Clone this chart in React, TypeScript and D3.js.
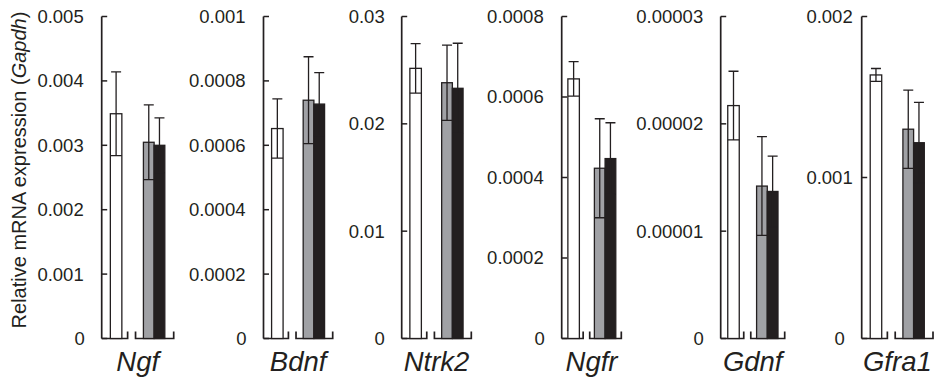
import React, { useRef, useEffect } from "react";
import * as d3 from "d3";

// gene names and y-axis tick labels per panel
const genes = ["Ngf", "Bdnf", "Ntrk2", "Ngfr", "Gdnf", "Gfra1"];
const tickLabels = [
  ["0", "0.001", "0.002", "0.003", "0.004", "0.005"],
  ["0", "0.0002", "0.0004", "0.0006", "0.0008", "0.001"],
  ["0", "0.01", "0.02", "0.03"],
  ["0", "0.0002", "0.0004", "0.0006", "0.0008"],
  ["0", "0.00001", "0.00002", "0.00003"],
  ["0", "0.001", "0.002"],
];

// bar values (mean) and error (SD) for the three groups
const whiteMean = [0.00349, 0.000652, 0.02517, 0.000645, 0.0000217, 0.001637];
const whiteSd = [0.00065, 0.000092, 0.0023, 0.000043, 0.0000032, 0.00004];
const grayMean = [0.003047, 0.00074, 0.02383, 0.000423, 0.0000142, 0.0013];
const graySd = [0.00058, 0.000135, 0.0035, 0.000123, 0.0000046, 0.000243];
const blackMean = [0.003, 0.000728, 0.02331, 0.000447, 0.0000137, 0.001216];
const blackSd = [0.000425, 0.000098, 0.0042, 0.000089, 0.0000033, 0.00025];

export default function App() {
  const chartRef = useRef<HTMLDivElement>(null);

  useEffect(() => {
    drawChart();
  }, []);

  const drawChart = () => {
    const width = 935;
    const height = 387;
    const ink = "#231f20";
    const font = "'Liberation Sans', Arial, sans-serif";

    // panel placement (axis x and plot width)
    const panelX = [101.7, 263.5, 401.7, 561.7, 720.7, 861.7];
    const panelW = [72, 69.2, 69.6, 59.6, 64, 71.3];
    const labelGap = [18, 18, 17, 18, 17.5, 9];
    const top = 16.5;
    const bottom = 338.5;
    const whiteW = 11.5;
    const barW = 10.7;
    const capW = 10;

    const svg = d3
      .select(chartRef.current)
      .html("")
      .append("svg")
      .attr("width", width)
      .attr("height", height)
      .style("display", "block");

    svg
      .append("rect")
      .attr("width", width)
      .attr("height", height)
      .attr("fill", "white");

    // y axis title
    const title = svg
      .append("text")
      .attr("transform", `translate(25.5, 170) rotate(-90)`)
      .attr("text-anchor", "middle")
      .attr("font-family", font)
      .attr("font-size", 20)
      .attr("fill", ink);
    title.append("tspan").text("Relative mRNA expression (");
    title.append("tspan").attr("font-style", "italic").text("Gapdh");
    title.append("tspan").text(")");

    genes.forEach((gene, i) => {
      const ticks = tickLabels[i].map((t) => +t);
      const y = d3
        .scaleLinear()
        .domain([0, d3.max(ticks) as number])
        .range([bottom, top]);
      const x = d3
        .scaleLinear()
        .domain([0, 1])
        .range([panelX[i], panelX[i] + panelW[i]]);

      const g = svg.append("g");

      // y axis line + inward ticks
      g.append("line")
        .attr("x1", x(0))
        .attr("x2", x(0))
        .attr("y1", y(ticks[ticks.length - 1]))
        .attr("y2", y(0))
        .attr("stroke", ink)
        .attr("stroke-width", 1.7);

      g.selectAll(".tick")
        .data(ticks)
        .enter()
        .append("line")
        .attr("x1", x(0))
        .attr("x2", x(0) + 5.5)
        .attr("y1", (d) => y(d))
        .attr("y2", (d) => y(d))
        .attr("stroke", ink)
        .attr("stroke-width", 1.5);

      g.selectAll(".tlabel")
        .data(tickLabels[i])
        .enter()
        .append("text")
        .attr("x", (d) => x(0) - (+d === 0 ? 17 : labelGap[i]))
        .attr("y", (d) => y(+d))
        .attr("dy", "0.35em")
        .attr("text-anchor", "end")
        .attr("font-family", font)
        .attr("font-size", 18.5)
        .attr("fill", ink)
        .text((d) => d);

      const whiteC = x(0.2);
      const pairC = x(0.728);

      // baseline segments with end ticks
      const seg1 = [x(0), x(0.36)];
      const seg2 = [x(0.47), x(1)];
      const base = d3.path();
      base.moveTo(seg1[0], y(0));
      base.lineTo(seg1[1], y(0));
      base.lineTo(seg1[1], y(0) - 7);
      base.moveTo(seg2[0], y(0) - 7);
      base.lineTo(seg2[0], y(0));
      base.lineTo(seg2[1], y(0));
      base.lineTo(seg2[1], y(0) - 7);
      g.append("path")
        .attr("d", base.toString())
        .attr("fill", "none")
        .attr("stroke", ink)
        .attr("stroke-width", 1.7);

      const bars = [
        { cx: whiteC, w: whiteW, mean: whiteMean[i], sd: whiteSd[i], fill: "#ffffff" },
        { cx: pairC - barW / 2, w: barW, mean: grayMean[i], sd: graySd[i], fill: "#a0a1a5" },
        { cx: pairC + barW / 2, w: barW, mean: blackMean[i], sd: blackSd[i], fill: ink },
      ];

      bars.forEach((b) => {
        g.append("rect")
          .attr("x", b.cx - b.w / 2)
          .attr("y", y(b.mean))
          .attr("width", b.w)
          .attr("height", y(0) - y(b.mean))
          .attr("fill", b.fill)
          .attr("stroke", ink)
          .attr("stroke-width", 1.3);

        const err = d3.path();
        err.moveTo(b.cx, y(b.mean - b.sd));
        err.lineTo(b.cx, y(b.mean + b.sd));
        err.moveTo(b.cx - capW / 2, y(b.mean + b.sd));
        err.lineTo(b.cx + capW / 2, y(b.mean + b.sd));
        err.moveTo(b.cx - b.w / 2, y(b.mean - b.sd));
        err.lineTo(b.cx + b.w / 2, y(b.mean - b.sd));
        g.append("path")
          .attr("d", err.toString())
          .attr("fill", "none")
          .attr("stroke", ink)
          .attr("stroke-width", 1.3);
      });

      // gene name
      g.append("text")
        .attr("x", x(0.5))
        .attr("y", 371)
        .attr("text-anchor", "middle")
        .attr("font-family", font)
        .attr("font-style", "italic")
        .attr("font-size", 27.5)
        .attr("fill", ink)
        .text(gene);
    });
  };

  return (
    <div
      ref={chartRef}
      style={{ position: "absolute", left: 0, top: 0, width: 935, height: 387 }}
    ></div>
  );
}
